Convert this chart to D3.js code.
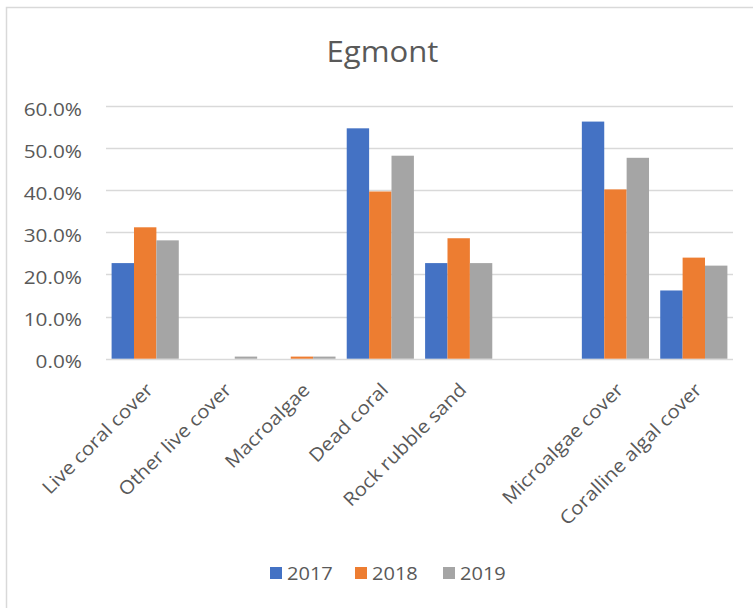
<!DOCTYPE html>
<html><head><meta charset="utf-8">
<script src="https://cdn.jsdelivr.net/npm/d3@7"></script>
<style>body{margin:0;background:#fff}svg{display:block}text{font-family:"Open Sans",sans-serif;fill:#595959}</style>
</head><body><svg id="c" width="753" height="608"></svg>
<script>
const categories = ["Live coral cover","Other live cover","Macroalgae","Dead coral","Rock rubble sand","","Microalgae cover","Coralline algal cover"];
const seriesNames = ["2017","2018","2019"];
const v2017 = [0.227,0,0,0.547,0.227,null,0.563,0.162];
const v2018 = [0.312,0,0.005,0.397,0.286,null,0.402,0.240];
const v2019 = [0.281,0.005,0.005,0.482,0.227,null,0.477,0.221];
const yTicks = [0,0.1,0.2,0.3,0.4,0.5,0.6];
const colors = ["#4472C4","#ED7D31","#A5A5A5"];
const series = [v2017,v2018,v2019];
const SX = 1.1;

const svg = d3.select("#c");
svg.append("rect").attr("x",6.5).attr("y",7.5).attr("width",760).attr("height",620)
  .attr("fill","#fff").attr("stroke","#D9D9D9").attr("stroke-width",1.5);

const x0 = d3.scaleBand().domain(d3.range(categories.length)).range([106,733]);
const bw = x0.bandwidth()*2/7;
const y = d3.scaleLinear().domain([0,0.6]).range([358.7,106]);

svg.append("text").attr("text-anchor","middle")
  .attr("transform",`translate(382.5,62) scale(${SX},1)`)
  .style("font-size","28.3px").text("Egmont");

svg.append("g").selectAll("line").data(yTicks).join("line")
  .attr("x1",106).attr("x2",733).attr("y1",d=>Math.round(y(d))+0.5).attr("y2",d=>Math.round(y(d))+0.5)
  .attr("stroke","#D9D9D9").attr("stroke-width",1.3);

const yAxis = d3.axisLeft(y).tickValues(yTicks).tickFormat(d3.format(".1%")).tickSize(0).tickPadding(0);
const ga = svg.append("g").attr("transform","translate(82,0)").call(yAxis);
ga.select(".domain").remove();
ga.selectAll("text").attr("x",0).attr("dy",null).attr("y",9)
  .attr("transform",`scale(${SX},1)`)
  .style("font-size","18.9px").style("font-family","Open Sans").attr("fill","#595959");

series.forEach((vals,si)=>{
  svg.append("g").selectAll("rect").data(vals.map((v,i)=>({v,i})).filter(d=>d.v!==null && d.v>0)).join("rect")
    .attr("x",d=>x0(d.i)+x0.bandwidth()/2-1.5*bw+si*bw)
    .attr("width",bw)
    .attr("y",d=>y(d.v))
    .attr("height",d=>y(0)-y(d.v))
    .attr("fill",colors[si]);
});

svg.append("g").selectAll("text").data(categories.map((c,i)=>({c,i})).filter(d=>d.c)).join("text")
  .attr("text-anchor","end")
  .attr("transform",d=>`translate(${x0(d.i)+x0.bandwidth()/2+9},391) rotate(-45) scale(${SX},1)`)
  .style("font-size","18.6px").text(d=>d.c);

const legendX = [270,355,443];
const lg = svg.append("g").selectAll("g").data(seriesNames).join("g")
  .attr("transform",(d,i)=>`translate(${legendX[i]},567)`);
lg.append("rect").attr("width",12).attr("height",12).attr("fill",(d,i)=>colors[i]);
lg.append("text").attr("transform",`translate(17,13) scale(${SX},1)`).style("font-size","18.2px").text(d=>d);
</script></body></html>
